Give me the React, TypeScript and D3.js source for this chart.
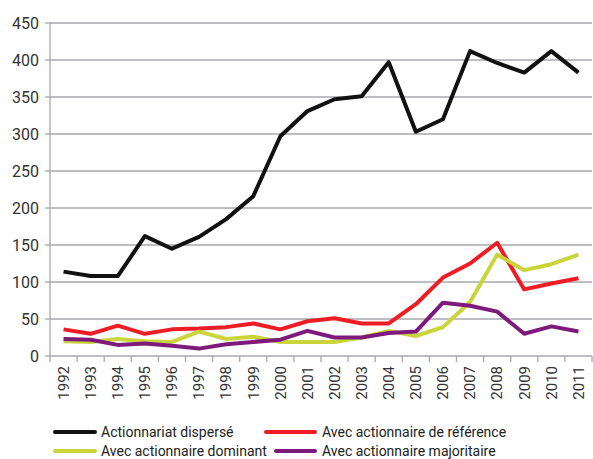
import * as d3 from 'd3';

// values
const years = ['1992','1993','1994','1995','1996','1997','1998','1999','2000','2001','2002','2003','2004','2005','2006','2007','2008','2009','2010','2011'];
const disperse = [114, 108, 108, 162, 145, 161, 185, 216, 297, 331, 347, 351, 397, 303, 320, 412, 396, 383, 412, 383];
const reference = [36, 30, 41, 30, 36, 37, 39, 44, 36, 47, 51, 44, 44, 70, 106, 125, 153, 90, 98, 105];
const dominant = [20, 19, 23, 20, 19, 33, 23, 26, 19, 19, 19, 25, 34, 27, 39, 73, 137, 116, 124, 137];
const majoritaire = [23, 22, 15, 17, 14, 10, 16, 19, 22, 34, 25, 25, 31, 33, 72, 68, 60, 30, 40, 33];
const yTicks = [0, 50, 100, 150, 200, 250, 300, 350, 400, 450];

const series = [
  { name: 'Actionnariat dispersé', values: disperse, color: '#111111' },
  { name: 'Avec actionnaire de référence', values: reference, color: '#ee1d25' },
  { name: 'Avec actionnaire dominant', values: dominant, color: '#c9d53a' },
  { name: 'Avec actionnaire majoritaire', values: majoritaire, color: '#7e1a7b' },
];

const W = 593;
const H = 459;
const font = 'Roboto, "DejaVu Sans", sans-serif';

export default function App() {
  const x = d3.scaleBand<string>().domain(years).range([50, 592]);
  const y = d3.scaleLinear().domain([0, 450]).range([356, 23]);

  const line = d3
    .line<number>()
    .x((_, i) => (x(years[i]) || 0) + x.bandwidth() / 2)
    .y((d) => y(d));

  // legend placement: two columns, two rows
  const legendPos = [
    { lx: 55, rx: 95, tx: 101, ly: 432 },
    { lx: 266, rx: 315, tx: 322, ly: 432 },
    { lx: 55, rx: 95, tx: 101, ly: 451 },
    { lx: 276, rx: 315, tx: 322, ly: 451 },
  ];

  return (
    <svg width={W} height={H} style={{ position: 'absolute', left: 0, top: 0, background: '#fff' }}>
      {/* grid */}
      {yTicks.map((t) => (
        <g key={t}>
          <line x1={50} x2={592} y1={y(t)} y2={y(t)} stroke="#a7a8ad" strokeWidth={1.3} />
          <line x1={45} x2={50} y1={y(t)} y2={y(t)} stroke="#a7a8ad" strokeWidth={1.3} />
          <text x={39} y={y(t)} dy="0.35em" textAnchor="end" fontFamily={font} fontSize={16} fill="#333">
            {t}
          </text>
        </g>
      ))}
      {/* y axis line */}
      <line x1={50} x2={50} y1={y(450)} y2={y(0) + 6} stroke="#a7a8ad" strokeWidth={1.3} />
      {/* x ticks */}
      {years.map((yr) => (
        <line key={yr} x1={(x(yr) || 0) + x.bandwidth()} x2={(x(yr) || 0) + x.bandwidth()} y1={y(0)} y2={y(0) + 6} stroke="#a7a8ad" strokeWidth={1.3} />
      ))}
      {years.map((yr) => {
        const cx = (x(yr) || 0) + x.bandwidth() / 2;
        return (
          <text
            key={yr}
            transform={`translate(${cx},${366}) rotate(-90)`}
            textAnchor="end"
            dy="0.35em"
            fontFamily={font}
            fontSize={15}
            fill="#333"
          >
            {yr}
          </text>
        );
      })}
      {/* lines */}
      {series.map((s) => (
        <path key={s.name} d={line(s.values) || ''} fill="none" stroke={s.color} strokeWidth={4} strokeLinejoin="round" />
      ))}
      {/* legend */}
      {series.map((s, i) => (
        <g key={s.name}>
          <line x1={legendPos[i].lx} x2={legendPos[i].rx} y1={legendPos[i].ly} y2={legendPos[i].ly} stroke={s.color} strokeWidth={4} strokeLinecap="round" />
          <text x={legendPos[i].tx} y={legendPos[i].ly} dy="0.35em" fontFamily={font} fontSize={14} fill="#222">
            {s.name}
          </text>
        </g>
      ))}
    </svg>
  );
}
